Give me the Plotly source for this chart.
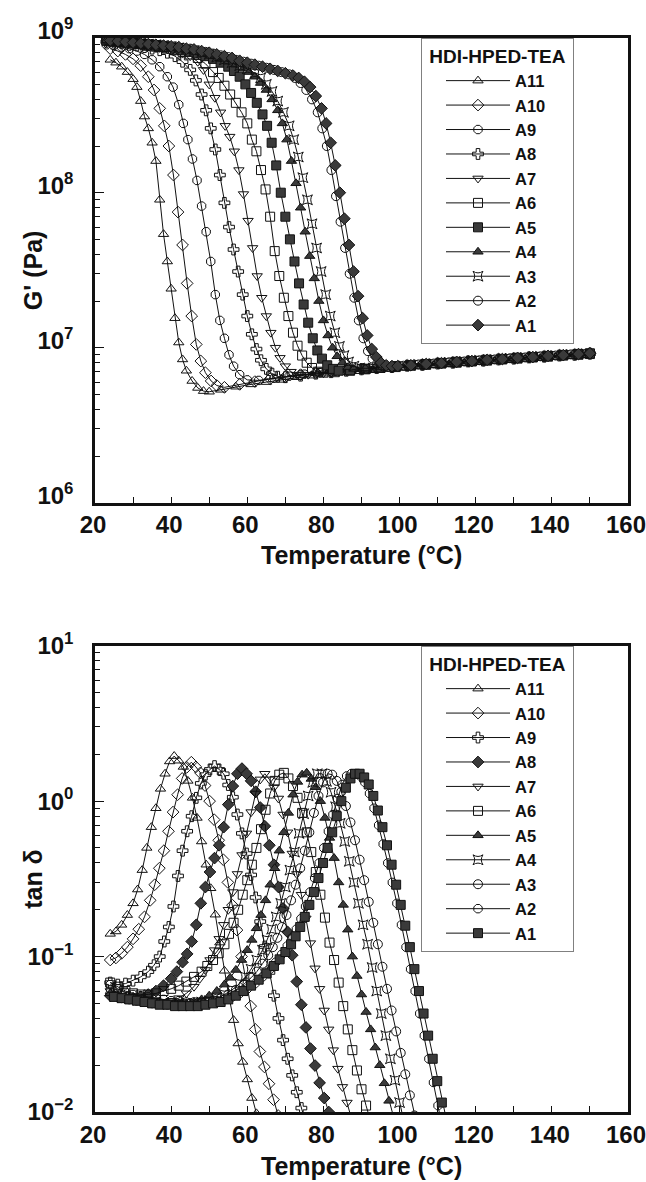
import plotly.graph_objects as go

# ---------------- data: storage modulus G' (Pa) vs temperature (°C) ----------------
A11_T = [24, 25.5, 27, 28.5, 30, 31, 32, 33, 34, 35, 36, 37, 38, 39, 40, 41, 42, 43, 44, 45.5, 47, 48.5, 50, 53, 57, 61, 65, 69, 73, 77, 81, 85, 89, 93, 97, 101, 105, 109, 113, 117, 121, 125, 129, 133, 137, 141, 145, 149]
A11_G = [7.2e8, 6.9e8, 6.5e8, 6.0e8, 5.4e8, 4.8e8, 3.9e8, 3.1e8, 2.6e8, 2.1e8, 1.6e8, 9.0e7, 5.4e7, 3.6e7, 2.4e7, 1.55e7, 1.08e7, 8.4e6, 7.1e6, 6.1e6, 5.5e6, 5.25e6, 5.2e6, 5.35e6, 5.6e6, 5.8e6, 6.0e6, 6.2e6, 6.45e6, 6.6e6, 6.8e6, 6.95e6, 7.05e6, 7.15e6, 7.3e6, 7.4e6, 7.55e6, 7.7e6, 7.8e6, 7.95e6, 8.05e6, 8.2e6, 8.3e6, 8.45e6, 8.55e6, 8.7e6, 8.8e6, 8.95e6]

A10_T = [24, 26, 28, 30, 32, 34, 35.5, 37, 38.2, 39.4, 40.6, 41.8, 43, 44.2, 45.4, 46.6, 47.8, 49, 50.5, 52, 54, 58, 62, 66, 70, 74, 78, 82, 86, 90, 94, 98, 102, 106, 110, 114, 118, 122, 126, 130, 134, 138, 142, 146, 150]
A10_G = [8.5e8, 8.2e8, 7.8e8, 7.3e8, 6.6e8, 5.6e8, 4.6e8, 3.5e8, 2.7e8, 2.0e8, 1.3e8, 7.5e7, 4.6e7, 2.6e7, 1.6e7, 1.05e7, 8.2e6, 6.9e6, 6.1e6, 5.7e6, 5.55e6, 5.8e6, 6.05e6, 6.3e6, 6.5e6, 6.7e6, 6.9e6, 7.05e6, 7.2e6, 7.3e6, 7.45e6, 7.55e6, 7.7e6, 7.8e6, 7.95e6, 8.05e6, 8.2e6, 8.3e6, 8.45e6, 8.55e6, 8.7e6, 8.8e6, 8.95e6, 9.05e6, 9.2e6]

A9_T = [23, 25, 27, 29, 31, 33, 35, 37, 39, 40.5, 42, 43.2, 44.4, 45.6, 46.8, 48, 49.2, 50.4, 51.6, 52.8, 54, 55.2, 56.4, 58, 60, 63, 67, 71, 75, 79, 83, 87, 91, 95, 99, 103, 107, 111, 115, 119, 123, 127, 131, 135, 139, 143, 147, 150]
A9_G = [9.0e8, 8.9e8, 8.7e8, 8.5e8, 8.2e8, 7.8e8, 7.2e8, 6.5e8, 5.6e8, 4.8e8, 3.7e8, 2.8e8, 2.2e8, 1.65e8, 1.2e8, 8.2e7, 5.6e7, 3.6e7, 2.2e7, 1.5e7, 1.15e7, 9.0e6, 7.6e6, 6.7e6, 6.2e6, 6.15e6, 6.35e6, 6.55e6, 6.75e6, 6.9e6, 7.05e6, 7.2e6, 7.35e6, 7.45e6, 7.6e6, 7.7e6, 7.85e6, 7.95e6, 8.1e6, 8.2e6, 8.35e6, 8.45e6, 8.6e6, 8.7e6, 8.85e6, 8.95e6, 9.1e6, 9.2e6]

A8_T = [23, 25, 27, 29, 31, 33, 35, 37, 39, 41, 43, 45, 46.5, 48, 49.2, 50.4, 51.6, 52.8, 54, 55.2, 56.4, 57.6, 58.8, 60, 61.2, 62.4, 63.6, 65, 66.5, 68, 70, 74, 78, 82, 86, 90, 94, 98, 102, 106, 110, 114, 118, 122, 126, 130, 134, 138, 142, 146, 150]
A8_G = [9.4e8, 9.3e8, 9.2e8, 9.0e8, 8.9e8, 8.7e8, 8.5e8, 8.3e8, 8.0e8, 7.6e8, 7.0e8, 6.2e8, 5.3e8, 4.3e8, 3.4e8, 2.6e8, 1.9e8, 1.3e8, 8.6e7, 6.0e7, 4.3e7, 3.1e7, 2.2e7, 1.6e7, 1.22e7, 9.8e6, 8.3e6, 7.3e6, 6.8e6, 6.5e6, 6.45e6, 6.6e6, 6.8e6, 6.95e6, 7.1e6, 7.25e6, 7.4e6, 7.5e6, 7.65e6, 7.75e6, 7.9e6, 8.0e6, 8.15e6, 8.25e6, 8.4e6, 8.5e6, 8.65e6, 8.75e6, 8.9e6, 9.0e6, 9.15e6]

A7_T = [23, 25, 27, 29, 31, 33, 35, 37, 39, 41, 43, 45, 47, 48.5, 50, 51.5, 53, 54.2, 55.4, 56.6, 57.8, 59, 60.2, 61.4, 62.6, 63.8, 65, 66.2, 67.4, 68.6, 70, 71.5, 73, 76, 80, 84, 88, 92, 96, 100, 104, 108, 112, 116, 120, 124, 128, 132, 136, 140, 144, 148, 150]
A7_G = [9.5e8, 9.4e8, 9.3e8, 9.2e8, 9.0e8, 8.9e8, 8.7e8, 8.6e8, 8.4e8, 8.2e8, 7.9e8, 7.6e8, 7.0e8, 6.2e8, 5.0e8, 4.1e8, 3.3e8, 2.7e8, 2.3e8, 1.85e8, 1.4e8, 9.8e7, 6.6e7, 4.4e7, 2.9e7, 2.1e7, 1.6e7, 1.25e7, 1.0e7, 8.6e6, 7.6e6, 7.0e6, 6.7e6, 6.7e6, 6.85e6, 7.0e6, 7.15e6, 7.3e6, 7.4e6, 7.55e6, 7.65e6, 7.8e6, 7.9e6, 8.05e6, 8.15e6, 8.3e6, 8.4e6, 8.55e6, 8.65e6, 8.8e6, 8.9e6, 9.05e6, 9.1e6]

A6_T = [23, 25, 27, 29, 31, 33, 35, 37, 39, 41, 43, 45, 47, 49, 51, 52.5, 54, 55.5, 57, 58.5, 60, 61.2, 62.4, 63.6, 64.8, 66, 67.2, 68.4, 69.6, 70.8, 72, 73.2, 74.4, 75.6, 77, 78.5, 80, 83, 87, 91, 95, 99, 103, 107, 111, 115, 119, 123, 127, 131, 135, 139, 143, 147, 150]
A6_G = [9.5e8, 9.4e8, 9.3e8, 9.2e8, 9.1e8, 9.0e8, 8.8e8, 8.7e8, 8.5e8, 8.3e8, 8.1e8, 7.8e8, 7.4e8, 6.8e8, 6.0e8, 5.5e8, 4.9e8, 4.3e8, 3.8e8, 3.3e8, 2.8e8, 2.2e8, 1.85e8, 1.4e8, 1.05e8, 7.0e7, 4.2e7, 2.9e7, 2.1e7, 1.6e7, 1.25e7, 1.03e7, 8.9e6, 8.0e6, 7.4e6, 7.0e6, 6.9e6, 6.95e6, 7.1e6, 7.25e6, 7.4e6, 7.5e6, 7.65e6, 7.75e6, 7.9e6, 8.0e6, 8.15e6, 8.25e6, 8.4e6, 8.5e6, 8.65e6, 8.75e6, 8.9e6, 9.0e6, 9.1e6]

A5_T = [23, 25, 27, 29, 31, 33, 35, 37, 39, 41, 43, 45, 47, 49, 51, 53, 55, 56.5, 58, 59.5, 61, 62.5, 64, 65.2, 66.4, 67.6, 68.8, 70, 71.2, 72.4, 73.6, 74.8, 76, 77.2, 78.4, 79.6, 81, 82.5, 84, 87, 91, 95, 99, 103, 107, 111, 115, 119, 123, 127, 131, 135, 139, 143, 147, 150]
A5_G = [9.6e8, 9.5e8, 9.4e8, 9.3e8, 9.2e8, 9.1e8, 9.0e8, 8.8e8, 8.7e8, 8.5e8, 8.3e8, 8.1e8, 7.9e8, 7.6e8, 7.3e8, 6.9e8, 6.5e8, 6.1e8, 5.6e8, 5.0e8, 4.4e8, 3.8e8, 3.2e8, 2.7e8, 2.1e8, 1.5e8, 1.0e8, 7.0e7, 5.0e7, 3.6e7, 2.6e7, 1.9e7, 1.45e7, 1.15e7, 9.6e6, 8.5e6, 7.7e6, 7.3e6, 7.1e6, 7.15e6, 7.3e6, 7.45e6, 7.6e6, 7.7e6, 7.85e6, 7.95e6, 8.1e6, 8.2e6, 8.35e6, 8.45e6, 8.6e6, 8.7e6, 8.85e6, 8.95e6, 9.1e6, 9.2e6]

A4_T = [23, 25, 27, 29, 31, 33, 35, 37, 39, 41, 43, 45, 47, 49, 51, 53, 55, 57, 59, 60.5, 62, 63.5, 65, 66.5, 68, 69.2, 70.4, 71.6, 72.8, 74, 75.2, 76.4, 77.6, 78.8, 80, 81.2, 82.4, 83.6, 85, 86.5, 88, 91, 95, 99, 103, 107, 111, 115, 119, 123, 127, 131, 135, 139, 143, 147, 150]
A4_G = [9.6e8, 9.5e8, 9.4e8, 9.3e8, 9.2e8, 9.1e8, 9.0e8, 8.9e8, 8.8e8, 8.6e8, 8.5e8, 8.3e8, 8.1e8, 7.9e8, 7.6e8, 7.3e8, 7.0e8, 6.7e8, 6.3e8, 6.0e8, 5.6e8, 5.1e8, 4.6e8, 4.0e8, 3.4e8, 2.8e8, 2.2e8, 1.6e8, 1.15e8, 8.0e7, 5.6e7, 3.9e7, 2.8e7, 2.0e7, 1.5e7, 1.2e7, 1.0e7, 8.8e6, 8.0e6, 7.5e6, 7.3e6, 7.35e6, 7.5e6, 7.6e6, 7.75e6, 7.85e6, 8.0e6, 8.1e6, 8.25e6, 8.35e6, 8.5e6, 8.6e6, 8.75e6, 8.85e6, 9.0e6, 9.1e6, 9.2e6]

A3_T = [24, 26, 28, 30, 32, 34, 36, 38, 40, 42, 44, 46, 48, 50, 52, 54, 56, 58, 60, 62, 63.5, 65, 66.5, 68, 69.5, 71, 72.2, 73.4, 74.6, 75.8, 77, 78.2, 79.4, 80.6, 81.8, 83, 84.2, 85.4, 86.6, 88, 89.5, 91, 93, 97, 101, 105, 109, 113, 117, 121, 125, 129, 133, 137, 141, 145, 149]
A3_G = [9.6e8, 9.5e8, 9.4e8, 9.3e8, 9.2e8, 9.1e8, 9.0e8, 8.9e8, 8.7e8, 8.6e8, 8.4e8, 8.2e8, 8.0e8, 7.8e8, 7.5e8, 7.2e8, 6.9e8, 6.6e8, 6.3e8, 5.9e8, 5.5e8, 5.0e8, 4.5e8, 3.9e8, 3.3e8, 2.7e8, 2.2e8, 1.7e8, 1.25e8, 9.0e7, 6.3e7, 4.4e7, 3.1e7, 2.2e7, 1.6e7, 1.25e7, 1.02e7, 8.9e6, 8.1e6, 7.6e6, 7.4e6, 7.35e6, 7.4e6, 7.55e6, 7.65e6, 7.8e6, 7.9e6, 8.05e6, 8.15e6, 8.3e6, 8.4e6, 8.55e6, 8.65e6, 8.8e6, 8.9e6, 9.05e6, 9.15e6]

A2_T = [23, 25, 27, 29, 31, 33, 35, 37, 39, 41, 43, 45, 47, 49, 51, 53, 55, 57, 59, 61, 63, 65, 67, 69, 71, 72.5, 74, 75.5, 77, 78.5, 79.7, 80.9, 82.1, 83.3, 84.5, 85.7, 86.9, 88.1, 89.3, 90.5, 91.7, 92.9, 94.1, 95.5, 97, 98.5, 101, 105, 109, 113, 117, 121, 125, 129, 133, 137, 141, 145, 149]
A2_G = [9.7e8, 9.6e8, 9.5e8, 9.4e8, 9.3e8, 9.2e8, 9.1e8, 9.0e8, 8.9e8, 8.8e8, 8.6e8, 8.5e8, 8.3e8, 8.1e8, 7.9e8, 7.7e8, 7.5e8, 7.2e8, 7.0e8, 6.8e8, 6.6e8, 6.4e8, 6.2e8, 6.0e8, 5.8e8, 5.5e8, 5.1e8, 4.6e8, 4.0e8, 3.3e8, 2.6e8, 2.0e8, 1.4e8, 9.5e7, 6.5e7, 4.4e7, 3.0e7, 2.1e7, 1.5e7, 1.15e7, 9.5e6, 8.5e6, 7.9e6, 7.6e6, 7.5e6, 7.55e6, 7.65e6, 7.8e6, 7.9e6, 8.05e6, 8.15e6, 8.3e6, 8.4e6, 8.55e6, 8.65e6, 8.8e6, 8.9e6, 9.05e6, 9.15e6]

A1_T = [24, 26, 28, 30, 32, 34, 36, 38, 40, 42, 44, 46, 48, 50, 52, 54, 56, 58, 60, 62, 64, 66, 68, 70, 72, 73.5, 75, 76.5, 78, 79.5, 80.7, 81.9, 83.1, 84.3, 85.5, 86.7, 87.9, 89.1, 90.3, 91.5, 92.7, 93.9, 95.1, 96.5, 98, 99.5, 103, 107, 111, 115, 119, 123, 127, 131, 135, 139, 143, 147, 150]
A1_G = [9.6e8, 9.5e8, 9.4e8, 9.3e8, 9.2e8, 9.1e8, 9.0e8, 8.9e8, 8.8e8, 8.7e8, 8.5e8, 8.4e8, 8.2e8, 8.0e8, 7.8e8, 7.6e8, 7.4e8, 7.1e8, 6.9e8, 6.7e8, 6.5e8, 6.3e8, 6.1e8, 5.9e8, 5.7e8, 5.5e8, 5.2e8, 4.8e8, 4.2e8, 3.5e8, 2.8e8, 2.1e8, 1.5e8, 1.0e8, 6.8e7, 4.6e7, 3.1e7, 2.15e7, 1.55e7, 1.2e7, 9.8e6, 8.7e6, 8.0e6, 7.7e6, 7.6e6, 7.6e6, 7.7e6, 7.85e6, 7.95e6, 8.1e6, 8.2e6, 8.35e6, 8.45e6, 8.6e6, 8.7e6, 8.85e6, 8.95e6, 9.1e6, 9.2e6]

# ---------------- data: tan delta vs temperature (°C) ----------------
B11_T = [24, 25.5, 27, 28.5, 30, 31.2, 32.4, 33.6, 34.8, 36, 37.2, 38.4, 39.6, 40.8, 42, 43.2, 44.4, 45.6, 46.8, 48, 49.2, 50.4, 51.6, 52.8, 54, 55.2, 56.4, 57.6, 58.8, 60, 61.2, 62.4, 63.6]
B11 = [0.14, 0.145, 0.16, 0.185, 0.22, 0.27, 0.36, 0.5, 0.68, 0.9, 1.2, 1.5, 1.8, 1.95, 1.82, 1.66, 1.35, 1.05, 0.78, 0.55, 0.39, 0.275, 0.186, 0.123, 0.081, 0.055, 0.039, 0.0276, 0.021, 0.0162, 0.0123, 0.0098, 0.0078]

B10_T = [24, 25.5, 27, 28.5, 30, 31.5, 33, 34.5, 35.7, 36.9, 38.1, 39.3, 40.5, 41.7, 42.9, 44.1, 45.3, 46.5, 47.7, 48.9, 50.1, 51.3, 52.5, 53.7, 54.9, 56.1, 57.3, 58.5, 59.7, 60.9, 62.1, 63.3, 64.5, 65.7, 66.9, 68.1, 69.3]
B10 = [0.095, 0.098, 0.105, 0.115, 0.13, 0.15, 0.18, 0.23, 0.29, 0.37, 0.48, 0.64, 0.85, 1.1, 1.4, 1.65, 1.78, 1.66, 1.52, 1.26, 1.0, 0.76, 0.56, 0.42, 0.30, 0.214, 0.148, 0.1, 0.068, 0.048, 0.034, 0.0245, 0.0195, 0.0152, 0.012, 0.0095, 0.0078]

B9_T = [24, 26, 28, 30, 32, 34, 35.5, 37, 38.2, 39.4, 40.6, 41.8, 43, 44.2, 45.4, 46.6, 47.8, 49, 50.2, 51.4, 52.6, 53.8, 55, 56.2, 57.4, 58.6, 59.8, 61, 62.2, 63.4, 64.6, 65.8, 67, 68.2, 69.4, 70.6, 71.8, 73, 74.2, 75.4]
B9 = [0.068, 0.066, 0.067, 0.07, 0.074, 0.08, 0.088, 0.1, 0.125, 0.155, 0.21, 0.33, 0.48, 0.64, 0.8, 1.05, 1.3, 1.48, 1.6, 1.68, 1.6, 1.5, 1.27, 1.06, 0.82, 0.62, 0.46, 0.335, 0.24, 0.168, 0.116, 0.079, 0.056, 0.04, 0.029, 0.022, 0.0172, 0.0134, 0.0106, 0.0084]

B8_T = [24, 26, 28, 30, 32, 34, 36, 38, 40, 41.5, 43, 44.2, 45.4, 46.6, 47.8, 49, 50.2, 51.4, 52.6, 53.8, 55, 56.2, 57.4, 58.6, 59.8, 61, 62.2, 63.4, 64.6, 65.8, 67, 68.2, 69.4, 70.6, 71.8, 73, 74.2, 75.4, 76.6, 77.8, 79, 80.2, 81.4, 82.6]
B8 = [0.056, 0.055, 0.054, 0.054, 0.055, 0.057, 0.06, 0.065, 0.072, 0.08, 0.092, 0.104, 0.125, 0.16, 0.22, 0.28, 0.35, 0.43, 0.52, 0.68, 0.95, 1.25, 1.5, 1.62, 1.5, 1.35, 1.15, 0.91, 0.69, 0.52, 0.39, 0.28, 0.204, 0.144, 0.102, 0.069, 0.049, 0.035, 0.0256, 0.0199, 0.0154, 0.0123, 0.01, 0.0081]

B7_T = [24, 26, 28, 30, 32, 34, 36, 38, 40, 42, 44, 46, 47.5, 49, 50.2, 51.4, 52.6, 53.8, 55, 56.2, 57.4, 58.6, 59.8, 61, 62.2, 63.4, 64.6, 65.8, 67, 68.2, 69.4, 70.6, 71.8, 73, 74.2, 75.4, 76.6, 77.8, 79, 80.2, 81.4, 82.6, 83.8, 85, 86.2, 87.4, 88.6]
B7 = [0.06, 0.056, 0.054, 0.052, 0.051, 0.05, 0.05, 0.051, 0.052, 0.054, 0.058, 0.064, 0.072, 0.082, 0.095, 0.11, 0.13, 0.16, 0.2, 0.26, 0.34, 0.45, 0.62, 0.85, 1.12, 1.38, 1.5, 1.38, 1.23, 1.04, 0.82, 0.63, 0.46, 0.34, 0.25, 0.176, 0.122, 0.084, 0.062, 0.045, 0.034, 0.025, 0.019, 0.0145, 0.0115, 0.009, 0.0072]

B6_T = [24, 26, 28, 30, 32, 34, 36, 38, 40, 42, 44, 46, 48, 49.5, 51, 52.5, 54, 55.2, 56.4, 57.6, 58.8, 60, 61.2, 62.4, 63.6, 64.8, 66, 67.2, 68.4, 69.6, 70.8, 72, 73.2, 74.4, 75.6, 76.8, 78, 79.2, 80.4, 81.6, 82.8, 84, 85.2, 86.4, 87.6, 88.8, 90, 91.2, 92.4, 93.6]
B6 = [0.068, 0.064, 0.06, 0.058, 0.057, 0.057, 0.058, 0.06, 0.062, 0.065, 0.069, 0.074, 0.08, 0.087, 0.095, 0.105, 0.12, 0.14, 0.165, 0.2, 0.25, 0.31, 0.39, 0.5, 0.66, 0.88, 1.12, 1.35, 1.48, 1.52, 1.4, 1.25, 1.05, 0.84, 0.63, 0.47, 0.35, 0.25, 0.178, 0.123, 0.095, 0.068, 0.048, 0.034, 0.025, 0.0185, 0.014, 0.011, 0.0087, 0.007]

B5_T = [24, 26, 28, 30, 32, 34, 36, 38, 40, 42, 44, 46, 48, 50, 52, 54, 55.5, 57, 58.5, 60, 61.2, 62.4, 63.6, 64.8, 66, 67.2, 68.4, 69.6, 70.8, 72, 73.2, 74.4, 75.6, 76.8, 78, 79.2, 80.4, 81.6, 82.8, 84, 85.2, 86.4, 87.6, 88.8, 90, 91.2, 92.4, 93.6, 94.8, 96, 97.2, 98.4, 99.6]
B5 = [0.058, 0.055, 0.053, 0.052, 0.051, 0.05, 0.05, 0.049, 0.049, 0.05, 0.05, 0.051, 0.053, 0.056, 0.06, 0.066, 0.073, 0.082, 0.095, 0.11, 0.128, 0.152, 0.185, 0.23, 0.29, 0.37, 0.48, 0.63, 0.84, 1.1, 1.33, 1.48, 1.52, 1.39, 1.23, 1.0, 0.78, 0.58, 0.43, 0.3, 0.215, 0.149, 0.1, 0.075, 0.057, 0.044, 0.034, 0.026, 0.02, 0.0153, 0.0118, 0.0092, 0.0072]

B4_T = [24, 26, 28, 30, 32, 34, 36, 38, 40, 42, 44, 46, 48, 50, 52, 54, 56, 58, 59.5, 61, 62.5, 64, 65.2, 66.4, 67.6, 68.8, 70, 71.2, 72.4, 73.6, 74.8, 76, 77.2, 78.4, 79.6, 80.8, 82, 83.2, 84.4, 85.6, 86.8, 88, 89.2, 90.4, 91.6, 92.8, 94, 95.2, 96.4, 97.6, 98.8, 100, 101.2]
B4 = [0.062, 0.058, 0.056, 0.054, 0.053, 0.052, 0.051, 0.05, 0.05, 0.05, 0.05, 0.05, 0.051, 0.052, 0.054, 0.057, 0.061, 0.067, 0.074, 0.083, 0.095, 0.11, 0.128, 0.15, 0.18, 0.22, 0.28, 0.36, 0.47, 0.62, 0.83, 1.08, 1.32, 1.5, 1.5, 1.34, 1.14, 0.92, 0.72, 0.55, 0.41, 0.3, 0.22, 0.16, 0.12, 0.085, 0.06, 0.043, 0.031, 0.022, 0.016, 0.0115, 0.0085]

B3_T = [25, 27, 29, 31, 33, 35, 37, 39, 41, 43, 45, 47, 49, 51, 53, 55, 57, 59, 61, 62.5, 64, 65.5, 66.7, 67.9, 69.1, 70.3, 71.5, 72.7, 73.9, 75.1, 76.3, 77.5, 78.7, 79.9, 81.1, 82.3, 83.5, 84.7, 85.9, 87.1, 88.3, 89.5, 90.7, 91.9, 93.1, 94.3, 95.5, 96.7, 97.9, 99.1, 100.3, 101.5, 102.7, 103.9, 105.1]
B3 = [0.056, 0.054, 0.053, 0.052, 0.051, 0.05, 0.05, 0.049, 0.049, 0.049, 0.05, 0.05, 0.051, 0.052, 0.054, 0.057, 0.061, 0.066, 0.073, 0.08, 0.09, 0.102, 0.115, 0.132, 0.155, 0.185, 0.23, 0.29, 0.37, 0.48, 0.63, 0.84, 1.08, 1.32, 1.5, 1.48, 1.35, 1.15, 0.93, 0.73, 0.56, 0.42, 0.31, 0.225, 0.165, 0.12, 0.086, 0.062, 0.045, 0.033, 0.024, 0.0175, 0.0128, 0.0095, 0.0072]

B2_T = [24, 26, 28, 30, 32, 34, 36, 38, 40, 42, 44, 46, 48, 50, 52, 54, 56, 58, 60, 62, 64, 66, 67.5, 69, 70.5, 71.7, 72.9, 74.1, 75.3, 76.5, 77.7, 78.9, 80.1, 81.3, 82.5, 83.7, 84.9, 86.1, 87.3, 88.5, 89.7, 90.9, 92.1, 93.3, 94.5, 95.7, 96.9, 98.1, 99.3, 100.5, 101.7, 102.9, 104.1, 105.3, 106.5, 107.7, 108.9, 110.1, 111.3]
B2 = [0.066, 0.062, 0.059, 0.057, 0.056, 0.055, 0.054, 0.053, 0.052, 0.052, 0.051, 0.051, 0.051, 0.051, 0.052, 0.053, 0.055, 0.058, 0.062, 0.067, 0.074, 0.083, 0.092, 0.103, 0.117, 0.132, 0.15, 0.175, 0.21, 0.26, 0.32, 0.4, 0.5, 0.64, 0.82, 1.04, 1.28, 1.45, 1.5, 1.5, 1.45, 1.32, 1.12, 0.9, 0.7, 0.53, 0.4, 0.3, 0.22, 0.16, 0.115, 0.083, 0.06, 0.043, 0.031, 0.022, 0.0155, 0.011, 0.0078]

B1_T = [25, 27, 29, 31, 33, 35, 37, 39, 41, 43, 45, 47, 49, 51, 53, 55, 57, 59, 61, 63, 65, 67, 68.5, 70, 71.5, 72.7, 73.9, 75.1, 76.3, 77.5, 78.7, 79.9, 81.1, 82.3, 83.5, 84.7, 85.9, 87.1, 88.3, 89.5, 90.7, 91.9, 93.1, 94.3, 95.5, 96.7, 97.9, 99.1, 100.3, 101.5, 102.7, 103.9, 105.1, 106.3, 107.5, 108.7, 109.9, 111.1, 112.3, 113.5]
B1 = [0.055, 0.054, 0.053, 0.052, 0.051, 0.05, 0.049, 0.049, 0.048, 0.048, 0.048, 0.048, 0.049, 0.05, 0.051, 0.053, 0.056, 0.06, 0.065, 0.071, 0.078, 0.087, 0.096, 0.107, 0.12, 0.135, 0.155, 0.18, 0.215, 0.26, 0.32, 0.4, 0.5, 0.63, 0.8, 1.0, 1.22, 1.4, 1.5, 1.5, 1.42, 1.28, 1.08, 0.87, 0.68, 0.52, 0.39, 0.29, 0.215, 0.158, 0.115, 0.083, 0.06, 0.043, 0.031, 0.022, 0.0158, 0.0115, 0.0085, 0.0065]

NAMES = ["A11", "A10", "A9", "A8", "A7", "A6", "A5", "A4", "A3", "A2", "A1"]
TOP_SERIES = [(A11_T, A11_G), (A10_T, A10_G), (A9_T, A9_G), (A8_T, A8_G), (A7_T, A7_G), (A6_T, A6_G),
              (A5_T, A5_G), (A4_T, A4_G), (A3_T, A3_G), (A2_T, A2_G), (A1_T, A1_G)]
BOT_SERIES = [(B11_T, B11), (B10_T, B10), (B9_T, B9), (B8_T, B8), (B7_T, B7), (B6_T, B6),
              (B5_T, B5), (B4_T, B4), (B3_T, B3), (B2_T, B2), (B1_T, B1)]
LEGEND_TITLE = "HDI-HPED-TEA"
X_TICKS = [20, 40, 60, 80, 100, 120, 140, 160]

# ---------------- styles ----------------
TOP_SYMBOLS = ["triangle-up-open", "diamond-open", "octagon-open", "cross-open", "triangle-down-open",
               "square-open", "square", "triangle-up", "star-square-open", "circle-open", "diamond"]
BOT_SYMBOLS = ["triangle-up-open", "diamond-open", "cross-open", "diamond", "triangle-down-open",
               "square-open", "triangle-up", "star-square-open", "circle-open", "octagon-open", "square"]

for (t, v), n in zip(TOP_SERIES + BOT_SERIES, NAMES + NAMES):
    if len(t) != len(v):
        raise ValueError(f"length mismatch in {n}: {len(t)} vs {len(v)}")

W, H = 646, 1182
FONT = "Liberation Sans"
INK = "#111111"
FILL = "#3a3a3a"
L, R = 95, 628
TOP_T, TOP_B = 37.7, 502.7
BOT_T, BOT_B = 645.7, 1112.0
NB = "\u00a0"


def fx(p):
    return p / W


def fy(p):
    return 1 - p / H


def marker_for(sym):
    filled = not sym.endswith("-open")
    return dict(symbol=sym, size=9, color=FILL if filled else INK,
                line=dict(color=INK, width=1))


fig = go.Figure()
for (t, v), name, sym in zip(TOP_SERIES, NAMES, TOP_SYMBOLS):
    fig.add_trace(go.Scatter(
        x=t, y=v, name=name, mode="lines+markers", xaxis="x", yaxis="y", legend="legend",
        line=dict(color=INK, width=1), marker=marker_for(sym),
    ))
for (t, v), name, sym in zip(BOT_SERIES, NAMES, BOT_SYMBOLS):
    fig.add_trace(go.Scatter(
        x=t, y=v, name=name, mode="lines+markers", xaxis="x2", yaxis="y2", legend="legend2",
        line=dict(color=INK, width=1), marker=marker_for(sym),
    ))

tickfont = dict(family=FONT, size=24, color=INK, weight="bold")


def xaxis_cfg(anchor):
    return dict(
        domain=[fx(L), fx(R)], anchor=anchor, range=[20, 160], automargin=False,
        tickmode="array", tickvals=X_TICKS, ticktext=[str(v) for v in X_TICKS],
        ticks="inside", ticklen=6, tickwidth=1.2, tickcolor=INK,
        minor=dict(tickmode="array", tickvals=[30, 50, 70, 90, 110, 130, 150],
                   ticks="inside", ticklen=6, tickwidth=1.2, tickcolor=INK, showgrid=False),
        showline=True, linewidth=2.5, linecolor=INK, mirror=True,
        showgrid=False, zeroline=False, tickfont=tickfont, ticklabelstandoff=-1,
        ticklabelshift=-2, ticklabeloverflow="allow",
    )


def yaxis_cfg(anchor, lo, hi, dom, shift):
    majors = [10.0 ** e for e in range(lo, hi + 1)]
    labels = [f"10<sup>{e}</sup>".replace("-", "\u2212") for e in range(lo, hi + 1)]
    minors = [m * 10.0 ** e for e in range(lo, hi) for m in range(2, 10)]
    return dict(
        domain=dom, anchor=anchor, type="log", range=[lo, hi], automargin=False,
        tickmode="array", tickvals=majors, ticktext=labels,
        ticks="inside", ticklen=9, tickwidth=1.2, tickcolor=INK,
        minor=dict(tickmode="array", tickvals=minors, ticks="inside", ticklen=5,
                   tickwidth=1, tickcolor=INK, showgrid=False),
        showline=True, linewidth=2.5, linecolor=INK, mirror=True,
        showgrid=False, zeroline=False, tickfont=tickfont,
        ticklabelstandoff=14, ticklabelshift=shift, ticklabeloverflow="allow",
    )


legend_font = dict(family=FONT, size=16.5, color=INK, weight="bold")
legend_title_font = dict(family=FONT, size=19, color=INK, weight="bold")


def legend_cfg(top_px):
    return dict(
        x=fx(421), y=fy(top_px), xanchor="left", yanchor="top",
        bgcolor="white", bordercolor="#808080", borderwidth=1,
        font=legend_font, itemsizing="trace", tracegroupgap=0,
        itemwidth=64, indentation=19,
        title=dict(text=NB + LEGEND_TITLE + NB, font=legend_title_font),
    )


title_font = dict(family=FONT, size=25, color=INK, weight="bold")
annotations = [
    dict(text="Temperature (°C)", x=fx((L + R) / 2), y=fy(555), xref="paper", yref="paper",
         showarrow=False, font=title_font, xanchor="center", yanchor="middle"),
    dict(text="Temperature (°C)", x=fx((L + R) / 2), y=fy(1166), xref="paper", yref="paper",
         showarrow=False, font=title_font, xanchor="center", yanchor="middle"),
    dict(text="G' (Pa)", x=fx(33), y=fy((TOP_T + TOP_B) / 2), xref="paper", yref="paper",
         showarrow=False, font=title_font, textangle=-90, xanchor="center", yanchor="middle"),
    dict(text="tan δ", x=fx(33), y=fy((BOT_T + BOT_B) / 2), xref="paper", yref="paper",
         showarrow=False, font=title_font, textangle=-90, xanchor="center", yanchor="middle"),
]

fig.update_layout(
    template="none",
    width=W, height=H, autosize=False,
    margin=dict(l=0, r=0, t=0, b=0, pad=0),
    paper_bgcolor="white", plot_bgcolor="white",
    showlegend=True,
    xaxis=xaxis_cfg("y"),
    yaxis=yaxis_cfg("x", 6, 9, [fy(TOP_B), fy(TOP_T)], -7),
    xaxis2=xaxis_cfg("y2"),
    yaxis2=yaxis_cfg("x2", -2, 1, [fy(BOT_B), fy(BOT_T)], 0),
    legend=legend_cfg(TOP_T),
    legend2=legend_cfg(BOT_T),
    annotations=annotations,
)

fig.write_html("out.html")
